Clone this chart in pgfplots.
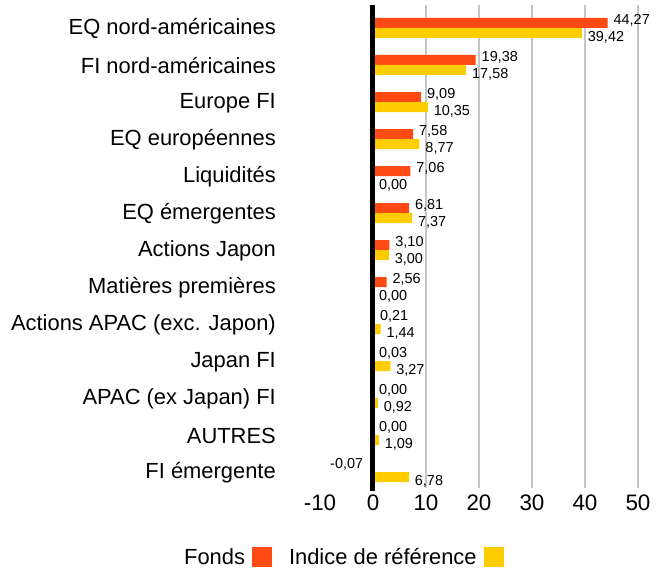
\documentclass[border=0pt]{standalone}
\usepackage{fontspec}
\setmainfont{Liberation Sans}
\usepackage{pgfplots}
\pgfplotsset{compat=1.18}
\definecolor{fonds}{HTML}{FF4A14}
\definecolor{indice}{HTML}{FFCC00}
\definecolor{gridgray}{HTML}{C6C6C6}
\begin{document}
\begin{tikzpicture}
\begin{axis}[
  scale only axis, width=318bp, height=483bp,
  xmin=-10, xmax=50, ymin=-0.62, ymax=12.43, y dir=reverse,
  xbar=0pt, bar width=10bp,
  clip=false,
  axis line style={draw=none},
  major tick length=0pt,
  xtick={-10,0,10,20,30,40,50},
  extra x ticks={10,20,30,40,50},
  extra x tick labels={},
  extra x tick style={grid=major, major grid style={gridgray, line width=2bp}},
  ytick={0,...,12},
  yticklabels={EQ nord-américaines, FI nord-américaines, Europe FI, EQ européennes, Liquidités, EQ émergentes, Actions Japon, Matières premières, Actions APAC (exc. Japon), Japan FI, APAC (ex Japan) FI, AUTRES, FI émergente},
  yticklabel style={font=\fontsize{22}{26}\selectfont, inner sep=0pt, xshift=-44bp, yshift=-1bp},
  xticklabel style={font=\fontsize{22.5}{26}\selectfont, inner sep=0pt, yshift=-7bp},
  /pgf/number format/assume math mode=true,
  point meta=x,
  nodes near coords={\pgfmathprintnumber[fixed,fixed zerofill,precision=2,use comma]{\pgfplotspointmeta}},
  nodes near coords align=horizontal,
  visualization depends on={rawx \as \rx},
  every node near coord/.append style={font=\fontsize{14.5}{17}\selectfont, text=black, xshift={\rx<0 ? -6 : 2.5}},
  legend columns=2,
  legend plot pos=right,
  legend style={at={(0.072,-0.143)}, anchor=center, draw=none, fill=none,
    font=\fontsize{22}{26}\selectfont,
    /tikz/every odd column/.append style={column sep=5bp},
    /tikz/every even column/.append style={column sep=15bp}},
]
\addplot[fill=fonds, draw=none, bar shift=5bp, every node near coord/.append style={yshift=2.5bp},
  legend image code/.code={\fill[fonds] (0bp,-10bp) rectangle (20bp,10bp);}]
  coordinates {(44.27,0) (19.38,1) (9.09,2) (7.58,3) (7.06,4) (6.81,5) (3.10,6) (2.56,7) (0.21,8) (0.03,9) (0.00,10) (0.00,11) (-0.07,12)};
\addlegendentry{Fonds}
\addplot[fill=indice, draw=none, bar shift=-5bp, every node near coord/.append style={yshift=-4.5bp},
  legend image code/.code={\fill[indice] (0bp,-10bp) rectangle (20bp,10bp);}]
  coordinates {(39.42,0) (17.58,1) (10.35,2) (8.77,3) (0.00,4) (7.37,5) (3.00,6) (0.00,7) (1.44,8) (3.27,9) (0.92,10) (1.09,11) (6.78,12)};
\addlegendentry{Indice de référence}
\draw[black, line width=5bp] (axis cs:0,-0.62) -- (axis cs:0,12.5);
\path (axis description cs:-1.0063,-0.178) rectangle (axis description cs:1.0975,1.0104);
\end{axis}
\end{tikzpicture}
\end{document}
